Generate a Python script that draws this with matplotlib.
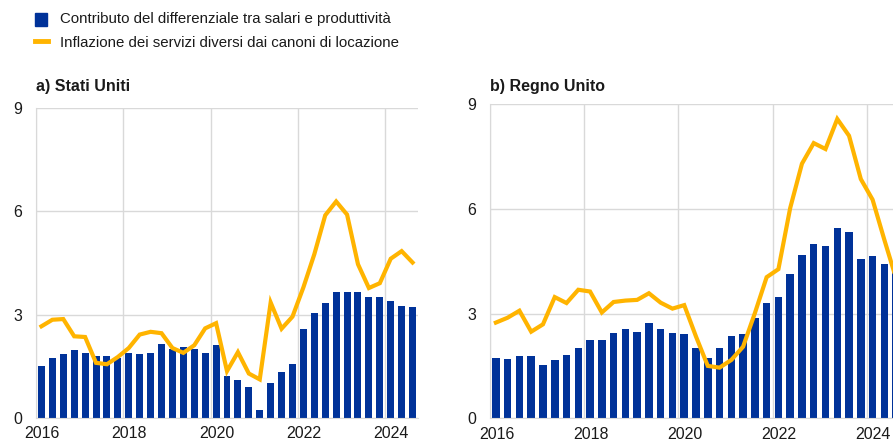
import matplotlib
matplotlib.use("Agg")
import matplotlib.pyplot as plt
import numpy as np

plt.rcParams['font.family'] = ['Liberation Sans', 'DejaVu Sans']

# quarterly data, 2016Q1 - 2024Q3
quarters = 2016 + 0.125 + 0.25 * np.arange(35)

us_bars = [1.52, 1.75, 1.86, 1.97, 1.89, 1.81, 1.81, 1.73, 1.89, 1.86,
           1.89, 2.15, 2.01, 2.07, 2.00, 1.89, 2.12, 1.23, 1.11, 0.89,
           0.23, 1.01, 1.33, 1.56, 2.59, 3.04, 3.34, 3.66, 3.66, 3.66,
           3.51, 3.51, 3.40, 3.25, 3.21]
us_line = [2.66, 2.85, 2.87, 2.37, 2.35, 1.60, 1.56, 1.77, 2.03, 2.42,
           2.50, 2.46, 2.03, 1.89, 2.11, 2.60, 2.75, 1.36, 1.91, 1.29,
           1.12, 3.35, 2.59, 2.94, 3.79, 4.75, 5.88, 6.28, 5.90, 4.46,
           3.77, 3.91, 4.62, 4.84, 4.51]

uk_bars = [1.74, 1.71, 1.78, 1.78, 1.52, 1.67, 1.81, 2.01, 2.23, 2.23,
           2.44, 2.55, 2.47, 2.73, 2.55, 2.44, 2.40, 2.01, 1.74, 2.01,
           2.37, 2.40, 2.88, 3.30, 3.47, 4.14, 4.68, 4.98, 4.94, 5.45,
           5.34, 4.57, 4.64, 4.42, 4.28]
uk_line = [2.74, 2.88, 3.08, 2.48, 2.69, 3.47, 3.30, 3.68, 3.63, 3.03,
           3.33, 3.37, 3.39, 3.58, 3.31, 3.14, 3.24, 2.34, 1.50, 1.45,
           1.67, 2.05, 3.01, 4.04, 4.27, 6.02, 7.29, 7.88, 7.71, 8.57,
           8.09, 6.85, 6.26, 5.11, 4.00]

years = [2016, 2018, 2020, 2022, 2024]
yticks = [0, 3, 6, 9]

blue = '#003299'
orange = '#ffb400'
grid_c = '#d9d9d9'
text_c = '#1a1a1a'

fig = plt.figure(figsize=(8.93, 4.43), dpi=100)

ax1 = fig.add_axes([0.0403, 0.0564, 0.4278, 0.7005])
ax2 = fig.add_axes([0.5487, 0.0558, 0.4614, 0.7095])

for ax, bars, line, title in [(ax1, us_bars, us_line, 'a) Stati Uniti'),
                              (ax2, uk_bars, uk_line, 'b) Regno Unito')]:
    ax.bar(quarters, bars, width=0.16, color=blue, zorder=2)
    ax.plot(quarters, line, color=orange, lw=3, zorder=3, solid_joinstyle='miter')
    ax.set_xlim(2016, 2024.75)
    ax.set_ylim(0, 9)
    ax.set_xticks(years)
    ax.set_xticklabels([])
    ax.set_xticks([y + 0.14 for y in years], minor=True)
    ax.set_xticklabels([str(y) for y in years], minor=True)
    ax.set_yticks(yticks)
    ax.set_yticklabels([str(t) for t in yticks])
    ax.tick_params(axis='both', which='both', length=0, labelsize=11.5, colors=text_c)
    ax.tick_params(axis='y', pad=10)
    ax.tick_params(axis='x', which='minor', pad=6)
    ax.grid(True, which='major', color=grid_c, lw=1, zorder=0)
    for s in ['top', 'right']:
        ax.spines[s].set_visible(False)
    for s in ['left', 'bottom']:
        ax.spines[s].set_color(grid_c)

# panel titles, centred at about 87 px from the top
fig.text(36 / 893, 1 - 87 / 443, 'a) Stati Uniti', fontsize=11.5,
         fontweight='bold', ha='left', va='center', color=text_c)
fig.text(490 / 893, 1 - 87 / 443, 'b) Regno Unito', fontsize=11.5,
         fontweight='bold', ha='left', va='center', color=text_c)

# legend at the top
fig.patches.append(plt.Rectangle((35 / 893, 1 - 26 / 443), 12 / 893, 13 / 443,
                                 transform=fig.transFigure, color=blue))
fig.lines.append(plt.Line2D([35 / 893, 48 / 893], [1 - 41 / 443, 1 - 41 / 443],
                            transform=fig.transFigure, color=orange, lw=3.5))
fig.text(60 / 893, 1 - 19 / 443, 'Contributo del differenziale tra salari e produttività',
         fontsize=10.8, va='center', ha='left', color=text_c)
fig.text(60 / 893, 1 - 43 / 443, 'Inflazione dei servizi diversi dai canoni di locazione',
         fontsize=10.8, va='center', ha='left', color=text_c)

fig.savefig('out.png', dpi=100)
